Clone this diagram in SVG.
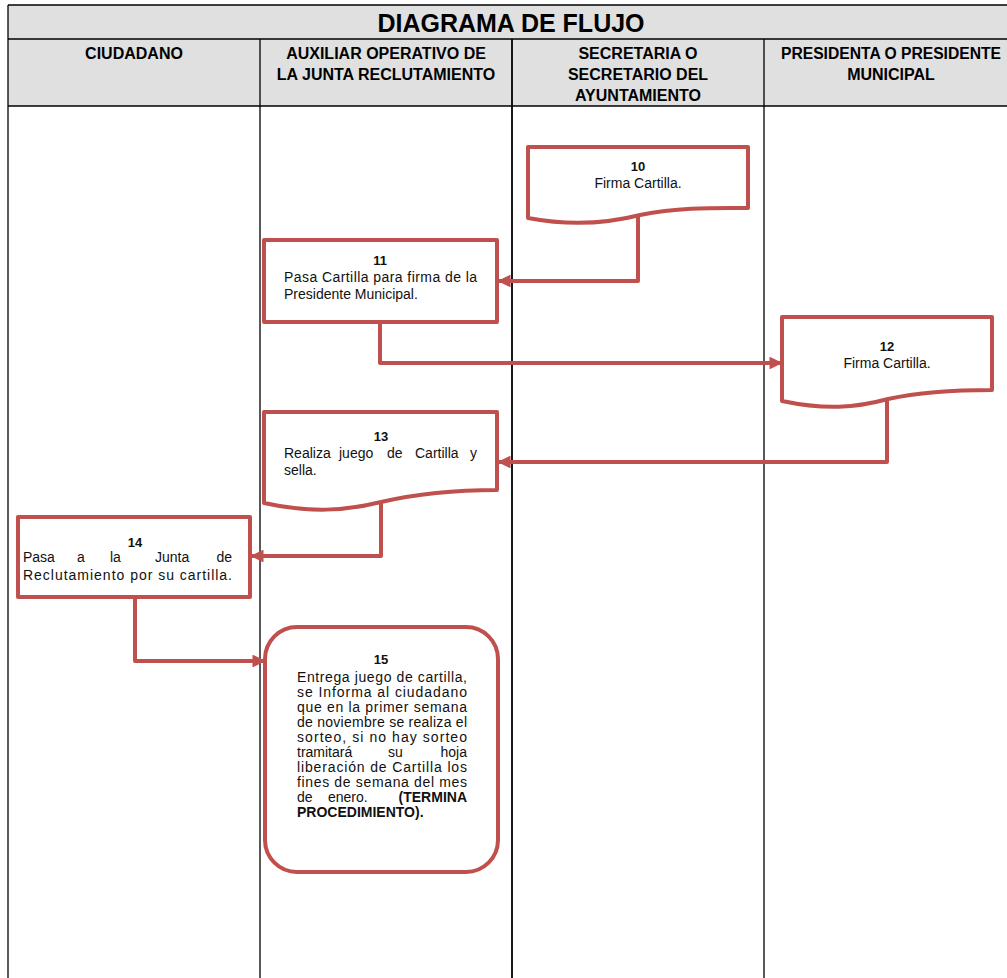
<svg xmlns="http://www.w3.org/2000/svg" width="1007" height="978" viewBox="0 0 1007 978">
<style>
.grid{stroke:#000;stroke-width:1.3;fill:none}
.node{fill:#fff;stroke:#c0504d;stroke-width:4;stroke-linejoin:round}
.conn{fill:none;stroke:#c0504d;stroke-width:4;stroke-linejoin:round}
.t{font-family:"Liberation Sans",Arial,sans-serif;font-size:14px;fill:#111}
.n{font-family:"Liberation Sans",Arial,sans-serif;font-size:13px;font-weight:bold;fill:#111;text-anchor:middle}
.b{font-weight:bold}
.h{font-family:"Liberation Sans",Arial,sans-serif;font-size:16px;font-weight:bold;fill:#000;text-anchor:middle}
.title{font-family:"Liberation Sans",Arial,sans-serif;font-size:25px;font-weight:bold;fill:#000;text-anchor:middle}
.e{text-anchor:end}
.m{text-anchor:middle}
</style>
<defs>
<marker id="arr" viewBox="0 0 10 10" refX="9" refY="5" markerWidth="3.2" markerHeight="3.2" markerUnits="strokeWidth" orient="auto">
<path d="M0,0 L10,5 L0,10 z" fill="#c0504d"/>
</marker>
</defs>
<g id="table">
<rect x="8" y="5" width="1010" height="101" fill="#e0e0e0"/>
<line class="grid" x1="8" y1="5" x2="1007" y2="5"/>
<line class="grid" x1="8" y1="39" x2="1007" y2="39"/>
<line class="grid" x1="8" y1="106" x2="1007" y2="106"/>
<line class="grid" x1="8" y1="5" x2="8" y2="978"/>
<line class="grid" x1="260" y1="39" x2="260" y2="978"/>
<line class="grid" x1="512" y1="39" x2="512" y2="978" style="stroke-width:1.8"/>
<line class="grid" x1="764" y1="39" x2="764" y2="978"/>
<text class="title" x="511" y="32">DIAGRAMA DE FLUJO</text>
<text class="h" x="134" y="59">CIUDADANO</text>
<text class="h" x="386" y="59">AUXILIAR OPERATIVO DE</text>
<text class="h" x="386" y="80">LA JUNTA RECLUTAMIENTO</text>
<text class="h" x="638" y="59">SECRETARIA O</text>
<text class="h" x="638" y="80">SECRETARIO DEL</text>
<text class="h" x="638" y="101">AYUNTAMIENTO</text>
<text class="h" x="891" y="59" textLength="220" lengthAdjust="spacingAndGlyphs">PRESIDENTA O PRESIDENTE</text>
<text class="h" x="891" y="80">MUNICIPAL</text>
</g>
<g id="connectors">
<path class="conn" d="M638,216 V281 H499" marker-end="url(#arr)"/>
<path class="conn" d="M380,322 V363 H781" marker-end="url(#arr)"/>
<path class="conn" d="M887,400 V462 H499" marker-end="url(#arr)"/>
<path class="conn" d="M381,503 V556 H252" marker-end="url(#arr)"/>
<path class="conn" d="M135,597 V661 H264" marker-end="url(#arr)"/>
</g>
<g id="node10">
<path class="node" d="M528,147 H748 V208 C715,208 680,207 640,215 C605,224 570,226 528,218 Z"/>
<text class="n" x="638" y="171">10</text>
<text class="t m" x="638" y="188">Firma Cartilla.</text>
</g>
<g id="node11">
<rect class="node" x="264" y="240" width="233" height="82"/>
<text class="n" x="380" y="265">11</text>
<text class="t" x="284" y="282" textLength="193" lengthAdjust="spacing">Pasa Cartilla para firma de la</text>
<text class="t" x="284" y="299">Presidente Municipal.</text>
</g>
<g id="node12">
<path class="node" d="M782,317 H992 V390 C960,390 925,391 888,399 C855,408 825,410 782,401 Z"/>
<text class="n" x="887" y="351">12</text>
<text class="t m" x="887" y="368">Firma Cartilla.</text>
</g>
<g id="node13">
<path class="node" d="M264,412 H497 V490 C460,490 420,493 381,502 C345,511 310,513 264,503 Z"/>
<text class="n" x="381" y="441">13</text>
<text class="t" y="458"><tspan x="284">Realiza</tspan><tspan x="339">juego</tspan><tspan x="387">de</tspan><tspan x="415">Cartilla</tspan></text>
<text class="t e" x="477" y="458">y</text>
<text class="t" x="284" y="475">sella.</text>
</g>
<g id="node14">
<rect class="node" x="18" y="517" width="232" height="80"/>
<text class="n" x="135" y="547">14</text>
<text class="t" y="562"><tspan x="23">Pasa</tspan><tspan x="77">a</tspan><tspan x="110">la</tspan><tspan x="155">Junta</tspan></text>
<text class="t e" x="232" y="562">de</text>
<text class="t" x="23" y="580" textLength="209" lengthAdjust="spacing">Reclutamiento por su cartilla.</text>
</g>
<g id="node15">
<rect class="node" x="265" y="627" width="233" height="245" rx="32" ry="32"/>
<text class="n" x="381" y="664">15</text>
<text class="t" x="297" y="682" textLength="170" lengthAdjust="spacing">Entrega juego de cartilla,</text>
<text class="t" x="297" y="697" textLength="170" lengthAdjust="spacing">se Informa al ciudadano</text>
<text class="t" x="297" y="712" textLength="170" lengthAdjust="spacing">que en la primer semana</text>
<text class="t" x="297" y="727" textLength="170" lengthAdjust="spacing">de noviembre se realiza el</text>
<text class="t" x="297" y="742" textLength="170" lengthAdjust="spacing">sorteo, si no hay sorteo</text>
<text class="t" x="297" y="757">tramitará</text>
<text class="t" x="388" y="757">su</text>
<text class="t e" x="467" y="757">hoja</text>
<text class="t" x="297" y="772" textLength="170" lengthAdjust="spacing">liberación de Cartilla los</text>
<text class="t" x="297" y="787" textLength="170" lengthAdjust="spacing">fines de semana del mes</text>
<text class="t" x="297" y="802">de</text>
<text class="t" x="328" y="802">enero.</text>
<text class="t b e" x="467" y="802">(TERMINA</text>
<text class="t b" x="297" y="817">PROCEDIMIENTO).</text>
</g>
</svg>
